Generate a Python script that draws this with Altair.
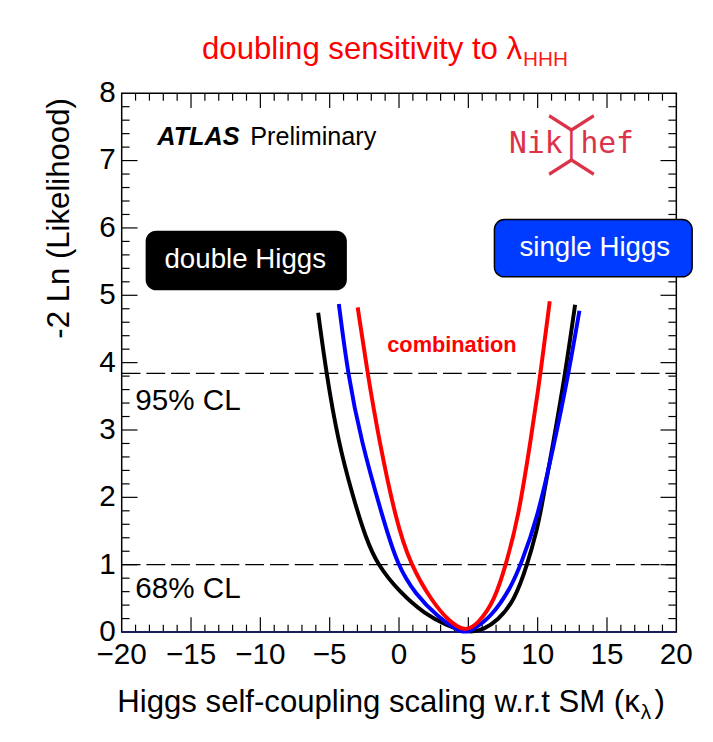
import altair as alt
import pandas as pd

# ---- curve data ----
dh_x = [-5.83, -5.24, -4.41, -3.34, -2.39, -1.55, 0.0, 1.89, 3.55, 4.6, 5.3, 6.1, 7.12, 8.31, 9.26, 9.97, 10.21, 11.16, 11.99, 12.7]
dh_y = [4.74, 3.84, 2.85, 2.02, 1.39, 1.0, 0.6, 0.26, 0.09, 0.02, 0.0, 0.04, 0.17, 0.46, 1.0, 1.54, 1.78, 2.85, 3.84, 4.86]

sh_x = [-4.34, -3.7, -2.75, -1.15, -0.13, 1.18, 2.84, 4.27, 4.75, 5.22, 6.65, 8.07, 8.78, 9.97, 11.16, 12.23, 13.01]
sh_y = [4.87, 3.84, 2.85, 1.68, 1.0, 0.56, 0.22, 0.02, 0.0, 0.02, 0.22, 0.66, 1.0, 1.68, 2.76, 3.84, 4.77]

cb_x = [-2.98, -2.27, -1.44, -0.25, 0.82, 2.37, 3.55, 4.75, 5.69, 6.88, 7.71, 8.59, 9.5, 10.21, 10.87]
cb_y = [4.82, 3.84, 2.85, 1.68, 1.0, 0.46, 0.17, 0.0, 0.12, 0.46, 1.0, 1.68, 2.85, 3.84, 4.91]

cl_levels = [1.0, 3.84]
x_tick_values = [-20, -15, -10, -5, 0, 5, 10, 15, 20]
x_tick_labels = ["\u221220", "\u221215", "\u221210", "\u22125", "0", "5", "10", "15", "20"]
y_tick_values = [0, 1, 2, 3, 4, 5, 6, 7, 8]
y_tick_labels = ["0", "1", "2", "3", "4", "5", "6", "7", "8"]
x_major = [-15, -10, -5, 0, 5, 10, 15]
x_minor = [v for v in range(-19, 20) if v % 5 != 0]
y_major = [1, 2, 3, 4, 5, 6, 7]
y_minor = [round(0.2 * i, 1) for i in range(1, 40) if i % 5 != 0]

W, H = 561, 545
FONT = "Liberation Sans"
LOGO = "#db3349"
XS = alt.Scale(domain=[-20, 20], nice=False, zero=False)
YS = alt.Scale(domain=[0, 8], nice=False, zero=False)
one = pd.DataFrame({"a": [0]})


def curve(xs, ys, color):
    df = pd.DataFrame({"x": xs, "y": ys})
    return alt.Chart(df).mark_line(color=color, strokeWidth=4, interpolate="basis").encode(
        x=alt.X("x:Q", scale=XS, axis=None),
        y=alt.Y("y:Q", scale=YS, axis=None),
    )


def xticks(vals, y1, y2):
    return alt.Chart(pd.DataFrame({"v": vals})).mark_rule(color="black", strokeWidth=1.2).encode(
        x=alt.X("v:Q", scale=XS, axis=None), y=alt.value(y1), y2=alt.value(y2))


def yticks(vals, x1, x2):
    return alt.Chart(pd.DataFrame({"v": vals})).mark_rule(color="black", strokeWidth=1.2).encode(
        y=alt.Y("v:Q", scale=YS, axis=None), x=alt.value(x1), x2=alt.value(x2))


def txt(text, x, y, size, color="black", align="left", baseline="alphabetic", font=FONT,
        weight="normal", style="normal", angle=0, pix=False):
    m = alt.Chart(one).mark_text(text=text, fontSize=size, color=color, align=align,
                                 baseline=baseline, font=font, fontWeight=weight,
                                 fontStyle=style, angle=angle)
    if pix:
        return m.encode(x=alt.value(x), y=alt.value(y))
    return m.encode(x=alt.datum(x), y=alt.datum(y))


def box(x1, x2, y1, y2, fill):
    return alt.Chart(one).mark_rect(cornerRadius=10, fill=fill, stroke="black", strokeWidth=1.5).encode(
        x=alt.datum(x1), x2=alt.datum(x2), y=alt.datum(y1), y2=alt.datum(y2))


cl_lines = alt.Chart(pd.DataFrame({"level": cl_levels})).mark_rule(
    color="black", strokeWidth=1.2, strokeDash=[19, 6]).encode(
    y=alt.Y("level:Q", scale=YS, axis=None), x=alt.value(0), x2=alt.value(W))

x_labels = alt.Chart(pd.DataFrame({"v": x_tick_values, "t": x_tick_labels})).mark_text(
    fontSize=30, font=FONT, color="black", align="center", baseline="top").encode(
    x=alt.X("v:Q", scale=XS, axis=None), y=alt.value(H + 8), text="t:N")

y_labels = alt.Chart(pd.DataFrame({"v": y_tick_values, "t": y_tick_labels})).mark_text(
    fontSize=30, font=FONT, color="black", align="right", baseline="middle").encode(
    y=alt.Y("v:Q", scale=YS, axis=None), x=alt.value(-6), text="t:N")

bottom_line = alt.Chart(one).mark_rule(color="#1c1c5c", strokeWidth=2).encode(
    x=alt.value(0), x2=alt.value(W), y=alt.value(H))

layers = [
    cl_lines,
    xticks(x_major, H, H - 15), xticks(x_minor, H, H - 7.5),
    xticks(x_major, 0, 15), xticks(x_minor, 0, 7.5),
    yticks(y_major, 0, 16), yticks(y_minor, 0, 8),
    yticks(y_major, W, W - 16), yticks(y_minor, W, W - 8),
    bottom_line,
    x_labels, y_labels,
    curve(dh_x, dh_y, "black"),
    curve(sh_x, sh_y, "#0000ff"),
    curve(cb_x, cb_y, "#ff0000"),
    # annotations
    txt("ATLAS", -17.43, 7.224, 25.5, weight="bold", style="italic"),
    txt("Preliminary", -10.73, 7.224, 25.5),
    box(-18.22, -3.815, 5.949, 5.084, "black"),
    txt("double Higgs", -11.09, 5.41, 28, color="white", align="center"),
    box(6.881, 21.14, 6.125, 5.274, "#003cff"),
    txt("single Higgs", 14.12, 5.58, 28, color="white", align="center"),
    txt("combination", 3.815, 4.164, 22, color="#ff0000", align="center", weight="bold"),
    txt("95% CL", -19.02, 3.295, 30),
    txt("68% CL", -19.02, 0.499, 30),
    txt("Nik|hef", 12.44, 7.12, 30, color=LOGO, align="center", font="DejaVu Sans Mono"),
    txt("\ufe40", 12.44, 7.31, 50, color=LOGO, align="center", baseline="middle", font="Noto Sans CJK JP"),
    txt("\ufe3f", 12.44, 7.05, 50, color=LOGO, align="center", baseline="middle", font="Noto Sans CJK JP"),
    # titles (pixel positions relative to the plot area)
    txt("doubling sensitivity to \u03bb", 405, -35, 31.5, color="#ff0000", align="right", pix=True),
    txt("HHH", 406, -28, 21, color="#ff1a1a", align="left", pix=True),
    txt("Higgs self-coupling scaling w.r.t SM (\u03ba", 524, 626, 31.5, align="right", pix=True),
    txt("\u03bb", 525, 633, 21, align="left", pix=True),
    txt(")", 539, 626, 31.5, align="left", pix=True),
    txt("-2 Ln (Likelihood)", -53, 5, 31.5, align="right", angle=270, pix=True),
]

chart = alt.layer(*layers).properties(
    width=W, height=H,
    background="white",
    padding={"left": 115, "top": 82, "right": 29, "bottom": 107},
    autosize=alt.AutoSizeParams(type="none"),
).configure_view(stroke="black", strokeWidth=1.5)

chart.save("out.html", embed_options={"renderer": "svg", "actions": False})
